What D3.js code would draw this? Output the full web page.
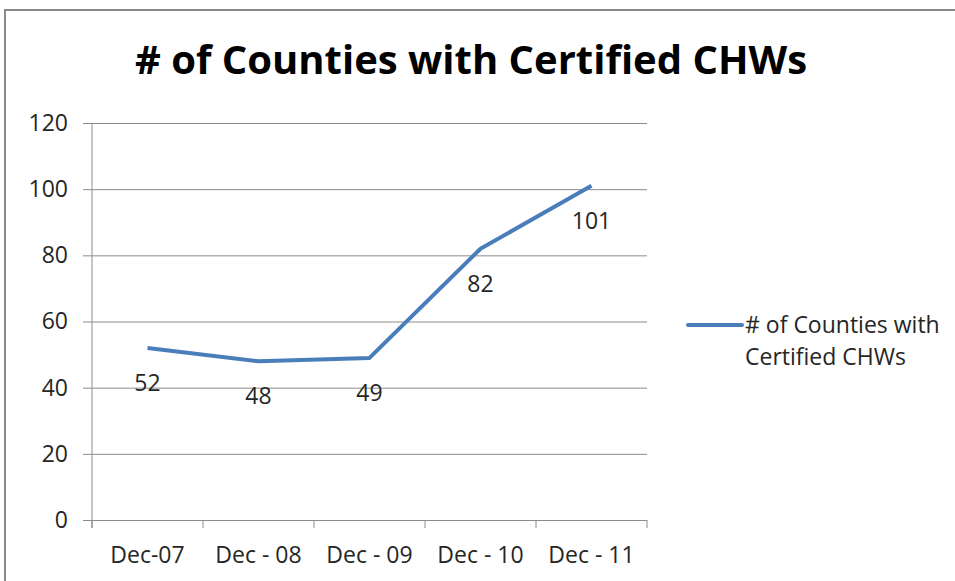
<!DOCTYPE html>
<html>
<head>
<meta charset="utf-8">
<script src="https://cdn.jsdelivr.net/npm/d3@7"></script>
<style>
  body { margin: 0; background: #fff; }
  svg { display: block; font-family: "Open Sans", "Noto Sans", sans-serif; }
</style>
</head>
<body>
<svg id="chart"></svg>
<script>
const width = 955
const height = 581

// data
const categories = ['Dec-07', 'Dec - 08', 'Dec - 09', 'Dec - 10', 'Dec - 11']
const counties = [52, 48, 49, 82, 101]
const yTicks = [0, 20, 40, 60, 80, 100, 120]
const seriesName = '# of Counties with Certified CHWs'
const legendLines = ['# of Counties with', 'Certified CHWs']

const plot = {left: 92, right: 647, top: 123, bottom: 520}
const lineColor = '#4a7ebb'
const gridColor = '#8c8c8c'
const textColor = '#262626'
const labelSize = 23

const svg = d3.select('#chart').attr('width', width).attr('height', height)

// chart frame
svg.append('path')
  .attr('d', `M5,${height} V10 H${width}`)
  .attr('fill', 'none')
  .attr('stroke', '#8a8a8a')
  .attr('stroke-width', 2)

// title
svg.append('text')
  .attr('x', 471)
  .attr('y', 74)
  .attr('text-anchor', 'middle')
  .attr('font-size', 40)
  .attr('font-weight', 'bold')
  .attr('fill', '#000')
  .text(seriesName)

const x = d3.scaleBand().domain(categories).range([plot.left, plot.right])
const y = d3.scaleLinear().domain([0, 120]).range([plot.bottom, plot.top])

// gridlines + y axis labels
const yAxis = d3.axisLeft(y)
  .tickValues(yTicks)
  .tickSize(-(plot.right - plot.left))
  .tickPadding(24)
const gy = svg.append('g')
  .attr('transform', `translate(${plot.left},0)`)
  .call(yAxis)
gy.select('.domain').remove()
gy.selectAll('.tick line')
  .attr('x1', -9)
  .attr('stroke', gridColor)
gy.selectAll('.tick text')
  .attr('font-size', labelSize)
  .attr('fill', textColor)
  .attr('font-family', '"Open Sans", sans-serif')

// vertical axis line
svg.append('line')
  .attr('x1', plot.left).attr('x2', plot.left)
  .attr('y1', plot.top).attr('y2', plot.bottom + 8)
  .attr('stroke', gridColor)

// x axis: tick marks at band edges
const edges = categories.map(c => x(c)).concat([plot.right])
svg.append('g').selectAll('line').data(edges).enter().append('line')
  .attr('x1', d => d).attr('x2', d => d)
  .attr('y1', plot.bottom).attr('y2', plot.bottom + 8)
  .attr('stroke', gridColor)

svg.append('g').selectAll('text').data(categories).enter().append('text')
  .attr('x', d => x(d) + x.bandwidth() / 2)
  .attr('y', 563)
  .attr('text-anchor', 'middle')
  .attr('font-size', labelSize)
  .attr('fill', textColor)
  .text(d => d)

// series line
const line = d3.line()
  .x((d, i) => x(categories[i]) + x.bandwidth() / 2)
  .y(d => y(d))
svg.append('path')
  .datum(counties)
  .attr('d', line)
  .attr('fill', 'none')
  .attr('stroke', lineColor)
  .attr('stroke-width', 4)
  .attr('stroke-linejoin', 'round')

// data labels below points
svg.append('g').selectAll('text').data(counties).enter().append('text')
  .attr('x', (d, i) => x(categories[i]) + x.bandwidth() / 2)
  .attr('y', d => y(d) + 43)
  .attr('text-anchor', 'middle')
  .attr('font-size', labelSize)
  .attr('fill', textColor)
  .text(d => d)

// legend
svg.append('line')
  .attr('x1', 688).attr('x2', 742)
  .attr('y1', 325).attr('y2', 325)
  .attr('stroke', lineColor)
  .attr('stroke-width', 4)
  .attr('stroke-linecap', 'round')
svg.append('g').selectAll('text').data(legendLines).enter().append('text')
  .attr('x', 745)
  .attr('y', (d, i) => 333 + i * 32)
  .attr('font-size', labelSize)
  .attr('fill', textColor)
  .text(d => d)
</script>
</body>
</html>
